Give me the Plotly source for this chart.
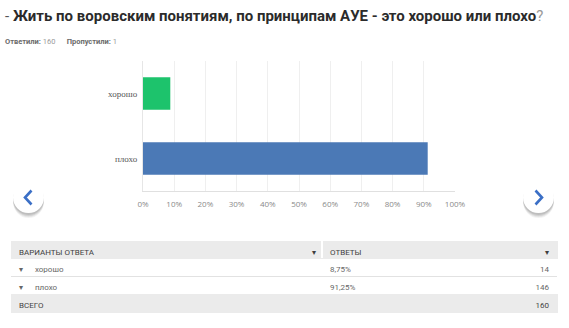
import plotly.graph_objects as go

# Survey results
question_main = "Жить по воровским понятиям, по принципам АУЕ - это хорошо или плохо"
answered = 160
skipped = 1
options = ["хорошо", "плохо"]
shares = [8.75, 91.25]
counts = [14, 146]
total = 160
bar_colors = ["#1dc36c", "#4b79b6"]
x_ticks = [0, 10, 20, 30, 40, 50, 60, 70, 80, 90, 100]

W, H = 569, 328


def px(x):
    return x / W


def py(y):
    return 1 - y / H


fig = go.Figure()

fig.add_trace(go.Bar(
    y=options, x=shares, orientation="h",
    marker=dict(color=bar_colors, line=dict(width=0)),
    hoverinfo="skip", showlegend=False,
))

# Results table under the chart
pct_text = [f"{v:.2f}".replace(".", ",") + "%" for v in shares]
row_fill = ["#ffffff"] * len(options) + ["#ebebeb"]
fig.add_trace(go.Table(
    domain=dict(x=[px(11), px(557)], y=[0, py(241)]),
    columnwidth=[295, 16, 190, 45],
    header=dict(
        values=["ВАРИАНТЫ ОТВЕТА", "▾", "ОТВЕТЫ", "▾"],
        fill_color="#ebebeb",
        line=dict(color="#ebebeb", width=1),
        align=["left", "center", "left", "right"],
        font=dict(family="Roboto", size=8, color="#3f3f3f"),
        height=17,
    ),
    cells=dict(
        values=[
            ["▾      " + o for o in options] + ["ВСЕГО"],
            [""] * (len(options) + 1),
            pct_text + [""],
            [str(c) for c in counts] + [str(total)],
        ],
        fill_color=[row_fill] * 4,
        line=dict(color=[row_fill] * 4, width=1),
        align=["left", "center", "left", "right"],
        font=dict(family="Roboto", size=8,
                  color=[["#666666"] * len(options) + ["#444444"]] * 4),
        height=18,
    ),
))

shapes = []
# white gap between the two header columns
shapes.append(dict(type="rect", xref="paper", yref="paper",
                   x0=px(321), x1=px(323), y0=py(258), y1=py(241),
                   fillcolor="#ffffff", line=dict(width=0), layer="above"))
# thin separator between answer rows
shapes.append(dict(type="line", xref="paper", yref="paper",
                   x0=px(11), x1=px(557), y0=py(276.5), y1=py(276.5),
                   line=dict(color="#e2e2e2", width=1), layer="above"))

# navigation buttons with soft shadow
for cx, d in [(28.5, -1), (538.5, 1)]:
    cy, r = 197.5, 15.5
    for k, op in [(5, 0.05), (4, 0.06), (3, 0.08), (2, 0.09)]:
        shapes.append(dict(type="circle", xref="paper", yref="paper",
                           x0=px(cx - r), x1=px(cx + r),
                           y0=py(cy + r + k), y1=py(cy - r + k * 0.6),
                           fillcolor=f"rgba(0,0,0,{op})", line=dict(width=0),
                           layer="above"))
    shapes.append(dict(type="circle", xref="paper", yref="paper",
                       x0=px(cx - r), x1=px(cx + r),
                       y0=py(cy + r), y1=py(cy - r),
                       fillcolor="#ffffff", line=dict(width=0), layer="above"))
    tip = cx + d * 3.5
    back = cx - d * 3.0
    path = (f"M {px(back)},{py(cy - 7)} L {px(tip)},{py(cy)} "
            f"L {px(back)},{py(cy + 7)}")
    shapes.append(dict(type="path", xref="paper", yref="paper", path=path,
                       line=dict(color="#3b6fc6", width=2.6), layer="above"))

annotations = [
    dict(x=px(3), y=py(16), xref="paper", yref="paper", xanchor="left",
         yanchor="middle", showarrow=False,
         text=("<span style='color:#555555'>- </span><b>" + question_main +
               "</b><span style='color:#9a9a9a'>?</span>"),
         font=dict(family="Roboto", size=15, color="#2b2b2b")),
    dict(x=px(3), y=py(41), xref="paper", yref="paper", xanchor="left",
         yanchor="middle", showarrow=False,
         text=(f"<b>Ответили:</b> <span style='color:#9a9a9a'>{answered}</span>"
               f"&nbsp;&nbsp;&nbsp;&nbsp;&nbsp;&nbsp;<b>Пропустили:</b> "
               f"<span style='color:#9a9a9a'>{skipped}</span>"),
         font=dict(family="Roboto", size=7.5, color="#6a6a6a")),
]

fig.update_layout(
    width=W, height=H,
    margin=dict(l=0, r=0, t=0, b=0, autoexpand=False),
    paper_bgcolor="#ffffff", plot_bgcolor="#ffffff",
    bargap=0.5,
    shapes=shapes, annotations=annotations,
    xaxis=dict(
        domain=[px(143), px(455)], range=[0, 100],
        tickvals=x_ticks, ticktext=[f"{t}%" for t in x_ticks],
        showgrid=True, gridcolor="#efefef", gridwidth=1,
        zeroline=False, showline=True, linecolor="#e0e0e0", linewidth=1,
        mirror=False, ticks="", automargin=False, ticklabelstandoff=5,
        tickfont=dict(family="Open Sans", size=8, color="#8a8a8a"),
        fixedrange=True,
    ),
    yaxis=dict(
        domain=[py(191), py(61)],
        categoryorder="array", categoryarray=options, autorange="reversed",
        showgrid=False, zeroline=False, showline=True, linecolor="#e6e6e6",
        ticks="", ticklabelstandoff=3, automargin=False,
        tickfont=dict(family="Liberation Serif", size=9, color="#555555"),
        fixedrange=True,
    ),
)

fig.write_html("out.html")
